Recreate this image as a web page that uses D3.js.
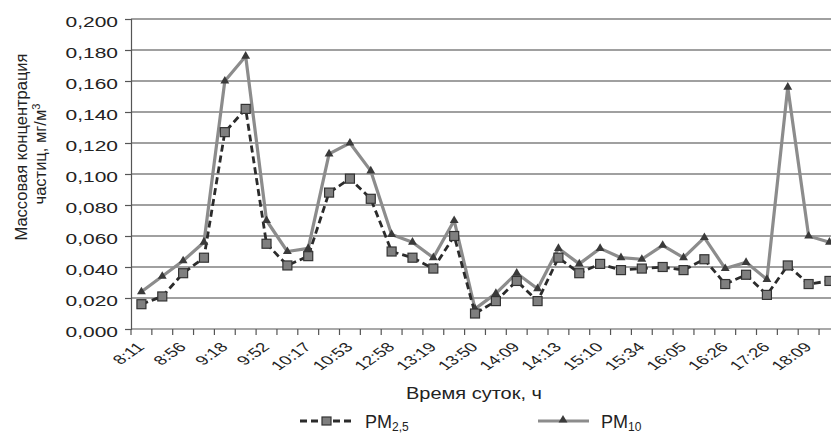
<!DOCTYPE html>
<html>
<head>
<meta charset="utf-8">
<script src="https://cdn.jsdelivr.net/npm/d3@7"></script>
<style>
  body { margin: 0; background: #fff; }
  svg { font-family: "Liberation Sans", Arial, sans-serif; }
</style>
</head>
<body>
<script>
// every other time label is printed under the axis
const tickLabels = ["8:11", "8:56", "9:18", "9:52", "10:17", "10:53", "12:58", "13:19", "13:50",
  "14:09", "14:13", "15:10", "15:34", "16:05", "16:26", "17:26", "18:09"];

const pm25 = [0.016, 0.021, 0.036, 0.046, 0.127, 0.142, 0.055, 0.041, 0.047, 0.088, 0.097,
  0.084, 0.050, 0.046, 0.039, 0.060, 0.010, 0.018, 0.031, 0.018, 0.046, 0.036,
  0.042, 0.038, 0.039, 0.040, 0.038, 0.045, 0.029, 0.035, 0.022, 0.041, 0.029, 0.031];

const pm10 = [0.024, 0.034, 0.044, 0.056, 0.160, 0.176, 0.070, 0.050, 0.052, 0.113, 0.120,
  0.102, 0.061, 0.056, 0.046, 0.070, 0.013, 0.023, 0.036, 0.026, 0.052, 0.042,
  0.052, 0.046, 0.045, 0.054, 0.046, 0.059, 0.039, 0.043, 0.032, 0.156, 0.060, 0.056];

const yTicks = [0, 0.02, 0.04, 0.06, 0.08, 0.1, 0.12, 0.14, 0.16, 0.18, 0.2];

const w = 831;
const h = 433;
const plotLeft = 131;
const plotTop = 19;
const plotBottom = 329;
const band = 20.85;
const stretch = 1.4; // the source picture is wider than tall, text looks stretched

const svg = d3.select("body").append("svg")
  .attr("width", w)
  .attr("height", h);

const xScale = d3.scaleBand()
  .domain(d3.range(pm25.length))
  .range([plotLeft, plotLeft + band * pm25.length]);

const yScale = d3.scaleLinear()
  .domain([0, 0.2])
  .range([plotBottom, plotTop]);

const cx = i => xScale(i) + xScale.bandwidth() / 2;

// grid
svg.append("g")
  .selectAll("line")
  .data(yTicks.slice(1))
  .enter()
  .append("line")
  .attr("x1", plotLeft)
  .attr("x2", w)
  .attr("y1", d => yScale(d))
  .attr("y2", d => yScale(d))
  .attr("stroke", "#808080")
  .attr("stroke-width", 1.3);

const yAxis = d3.axisLeft(yScale)
  .tickValues(yTicks)
  .tickSize(6)
  .tickFormat(d => d3.format(".3f")(d).replace(".", ","));

svg.append("g")
  .attr("transform", "translate(" + plotLeft + ",0)")
  .call(yAxis)
  .call(g => g.select(".domain").attr("stroke", "#555").attr("stroke-width", 1.2))
  .call(g => g.selectAll(".tick line").attr("stroke", "#555").attr("stroke-width", 1.2))
  .call(g => g.selectAll("text")
    .attr("x", null)
    .attr("dy", "0.48em")
    .attr("transform", "translate(-13,0) scale(" + stretch + ",1)")
    .attr("font-size", 15)
    .attr("fill", "#222")
    .attr("font-family", "Liberation Sans, Arial, sans-serif"));

// x axis line + ticks at band edges
svg.append("line")
  .attr("x1", plotLeft).attr("x2", w)
  .attr("y1", plotBottom).attr("y2", plotBottom)
  .attr("stroke", "#555").attr("stroke-width", 1.2);

svg.append("g")
  .selectAll("line")
  .data(d3.range(pm25.length + 1))
  .enter()
  .append("line")
  .attr("x1", d => plotLeft + d * band)
  .attr("x2", d => plotLeft + d * band)
  .attr("y1", plotBottom)
  .attr("y2", plotBottom + 6)
  .attr("stroke", "#555")
  .attr("stroke-width", 1.2);

svg.append("g")
  .selectAll("text")
  .data(tickLabels)
  .enter()
  .append("text")
  .attr("transform", (d, i) => "translate(" + (cx(i * 2) + 4) + "," + (plotBottom + 19) +
    ") scale(1.45,1) rotate(-45)")
  .attr("text-anchor", "end")
  .attr("font-size", 13)
  .attr("fill", "#222")
  .text(d => d);

// lines
const line = data => d3.line()
  .x((d, i) => cx(i))
  .y(d => yScale(d))(data);

svg.append("path")
  .attr("d", line(pm10))
  .attr("fill", "none")
  .attr("stroke", "#8c8c8c")
  .attr("stroke-width", 3.2)
  .attr("stroke-linejoin", "round");

svg.append("path")
  .attr("d", line(pm25))
  .attr("fill", "none")
  .attr("stroke", "#2b2b2b")
  .attr("stroke-width", 2.8)
  .attr("stroke-dasharray", "7,4");

const tri = d3.symbol().type(d3.symbolTriangle).size(34);

svg.append("g")
  .selectAll("path")
  .data(pm10)
  .enter()
  .append("path")
  .attr("d", tri)
  .attr("transform", (d, i) => "translate(" + cx(i) + "," + yScale(d) + ")")
  .attr("fill", "#3a3a3a");

svg.append("g")
  .selectAll("rect")
  .data(pm25)
  .enter()
  .append("rect")
  .attr("x", (d, i) => cx(i) - 4.5)
  .attr("y", d => yScale(d) - 4.5)
  .attr("width", 9)
  .attr("height", 9)
  .attr("fill", "#7f7f7f")
  .attr("stroke", "#333")
  .attr("stroke-width", 1.2);

// titles
svg.append("text")
  .attr("x", 406)
  .attr("y", 399)
  .attr("font-size", 17)
  .attr("fill", "#222")
  .attr("textLength", 136)
  .attr("lengthAdjust", "spacingAndGlyphs")
  .text("Время суток, ч");

const yTitle = svg.append("text")
  .attr("transform", "translate(27,147) rotate(-90)")
  .attr("text-anchor", "middle")
  .attr("font-size", 16.5)
  .attr("fill", "#222");
yTitle.append("tspan").attr("x", 0).attr("dy", 0).text("Массовая концентрация");
yTitle.append("tspan").attr("x", -7).attr("dy", 19).text("частиц, мг/м");
yTitle.append("tspan").attr("dy", -6).attr("font-size", 11).text("3");

// legend
const lg = svg.append("g");
lg.append("line")
  .attr("x1", 300).attr("x2", 352).attr("y1", 421).attr("y2", 421)
  .attr("stroke", "#2b2b2b").attr("stroke-width", 2.8).attr("stroke-dasharray", "7,4");
lg.append("rect")
  .attr("x", 322).attr("y", 417).attr("width", 9).attr("height", 8)
  .attr("fill", "#7f7f7f").attr("stroke", "#333").attr("stroke-width", 1.2);
const t1 = lg.append("text").attr("x", 365).attr("y", 428).attr("font-size", 18).attr("fill", "#222");
t1.append("tspan").text("PM");
t1.append("tspan").attr("dy", 3).attr("font-size", 12).text("2,5");

lg.append("line")
  .attr("x1", 538).attr("x2", 589).attr("y1", 421).attr("y2", 421)
  .attr("stroke", "#8c8c8c").attr("stroke-width", 3);
lg.append("path")
  .attr("d", tri)
  .attr("transform", "translate(563,420)")
  .attr("fill", "#3a3a3a");
const t2 = lg.append("text").attr("x", 601).attr("y", 428).attr("font-size", 18).attr("fill", "#222");
t2.append("tspan").text("PM");
t2.append("tspan").attr("dy", 3).attr("font-size", 12).text("10");
</script>
</body>
</html>
